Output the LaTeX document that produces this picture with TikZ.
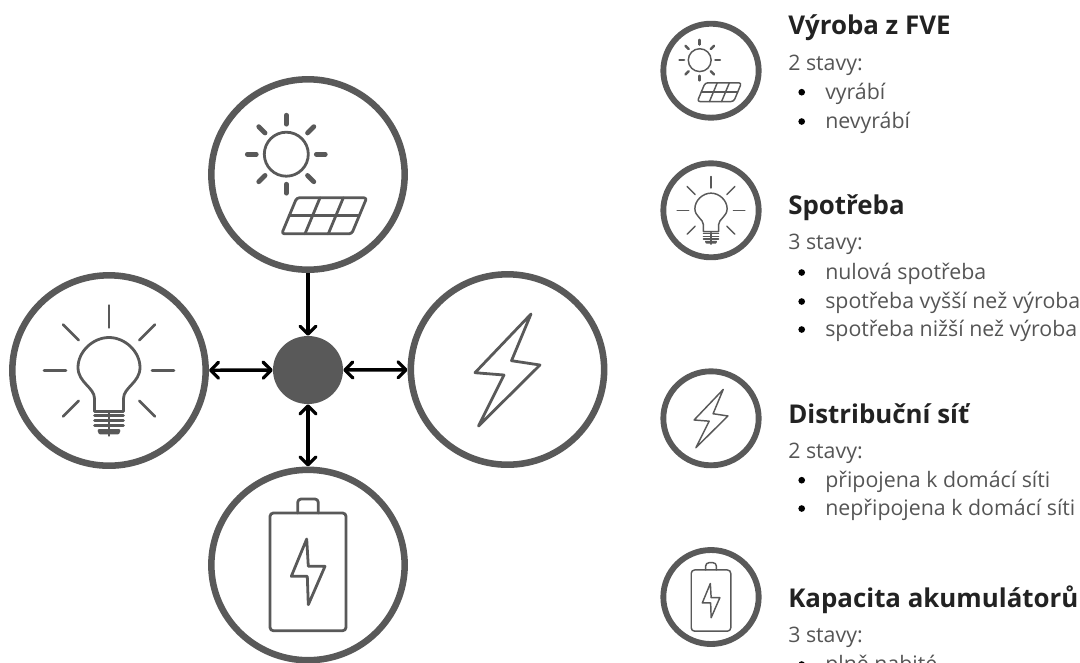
\documentclass[tikz,border=0pt]{standalone}
\usepackage{fontspec}
\usetikzlibrary{arrows.meta,shapes.geometric}
\setmainfont{Open Sans}
\definecolor{icongray}{HTML}{595959}
\definecolor{bodygray}{HTML}{555555}
\definecolor{headgray}{HTML}{222222}
\tikzset{
    bigring/.style={ellipse,draw=icongray,line width=4.9pt,minimum width=145pt,minimum height=142.8pt,inner sep=0pt},
    smallring/.style={ellipse,draw=icongray,line width=4.4pt,minimum width=71.5pt,minimum height=70.5pt,inner sep=0pt},
    hubdot/.style={ellipse,fill=icongray,minimum width=52.5pt,minimum height=51pt,inner sep=0pt},
    flow/.style={line width=2.6pt,black,>={Straight Barb[length=6pt,width=12pt,line width=2.4pt,round]}},
    bigicon/.style={draw=icongray,line width=2.1pt,line join=round,line cap=round},
    smallicon/.style={draw=icongray,line width=1.1pt,line join=round,line cap=round,scale=0.52},
    headtext/.style={anchor=base west,inner sep=0pt,text=headgray,font=\fontsize{19.4pt}{22pt}\selectfont\bfseries},
    bodytext/.style={anchor=base west,inner sep=0pt,text=bodygray,font=\fontsize{16pt}{18pt}\selectfont},
    itemdot/.style={circle,fill=black,inner sep=0pt,minimum size=5pt},
    sunicon/.pic={
        \draw (-21.7,-20.3) circle (22);
        \foreach \a in {0,45,...,315}
            \draw[line width=1.3\pgflinewidth] (-21.7,-20.3) ++(\a:30) -- ++(\a:9);
        \draw[rounded corners=2] (-11.3,23.3) -- (58.7,23.3) -- (43.7,59.3) -- (-26.3,59.3) -- cycle;
        \draw (-18.8,41.3) -- (51.2,41.3);
        \draw (12,23.3) -- (-3,59.3);
        \draw (35.3,23.3) -- (20.3,59.3);
    },
    bulbicon/.pic={
        \draw (-14.5,41) -- (-14.5,28) .. controls (-14.5,17) and (-31,12) .. (-31,-3)
            .. controls (-31,-19) and (-16,-33) .. (0,-33)
            .. controls (16,-33) and (31,-19) .. (31,-3)
            .. controls (31,12) and (14.5,17) .. (14.5,28) -- (14.5,41) -- cycle;
        \foreach \a in {0,45,...,315}
            \draw (\a:43) -- (\a:65);
        \foreach \y in {45,50,55}
            \draw (-14.5,\y) -- (14.5,\y);
        \draw[fill=icongray] (-10,60) -- (10,60) -- (9,62.5) -- (-9,62.5) -- cycle;
    },
    bolticon/.pic={
        \draw (23.5,-55.5) -- (-32.5,3.2) -- (-3.5,5.5) -- (-29,56.5) -- (32.5,-4.5) -- (4,-8.8) -- cycle;
    },
    batteryicon/.pic={
        \draw[rounded corners=2.5] (-38,-52) rectangle (38,65.7);
        \draw[rounded corners=2.5] (-10.3,-52) -- (-10.3,-66) -- (10.3,-66) -- (10.3,-52);
        \draw (-1.3,-26) -- (-16.7,11.3) -- (-0.7,11.3) -- (0.3,39.7) -- (17,1.3) -- (0.3,1.3) -- cycle;
    }
}
\begin{document}
\begin{tikzpicture}[x=0.75pt,y=-0.75pt]
    \useasboundingbox (0,0) rectangle (1080,662);
    % left part
    \node[hubdot] (hub) at (308,370) {};
    \node[bigring] (fve) at (308,174.5) {};
    \node[bigring] (bulb) at (109,370.5) {};
    \node[bigring] (grid) at (507.5,369.5) {};
    \node[bigring] (battery) at (308,565) {};
    \pic[bigicon] at (fve) {sunicon};
    \pic[bigicon] at (bulb) {bulbicon};
    \pic[bigicon] at (grid) {bolticon};
    \pic[bigicon] at (battery) {batteryicon};
    \draw[flow,->] (fve) -- (hub);
    \draw[flow,<->] (bulb) -- (hub);
    \draw[flow,<->] (grid) -- (hub);
    \draw[flow,<->] (battery) -- (hub);
    % right part
    \node[smallring] (fvesmall) at (711,70.7) {};
    \node[smallring] (bulbsmall) at (711,210.3) {};
    \node[smallring] (gridsmall) at (711,418.3) {};
    \node[smallring] (batterysmall) at (711,597) {};
    \pic[smallicon] at (fvesmall) {sunicon};
    \pic[smallicon] at (bulbsmall) {bulbicon};
    \pic[smallicon] at (gridsmall) {bolticon};
    \pic[smallicon] at (batterysmall) {batteryicon};
    \node[headtext] (fvehead) at (788,34.3) {Výroba z FVE};
    \node[bodytext] (fvestates) at (788,70.5) {2 stavy:};
    \node[headtext] (bulbhead) at (788,214.3) {Spotřeba};
    \node[bodytext] (bulbstates) at (788,249.5) {3 stavy:};
    \node[headtext] (gridhead) at (788,423) {Distribuční síť};
    \node[bodytext] (gridstates) at (788,458.2) {2 stavy:};
    \node[headtext] (batteryhead) at (788,607) {Kapacita akumulátorů};
    \node[bodytext] (batterystates) at (788,642.5) {3 stavy:};
    \foreach \n/\y/\t in {a/99/vyrábí,b/128.3/nevyrábí,
                          c/279.3/nulová spotřeba,d/308.3/spotřeba vyšší než výroba,e/336.3/spotřeba nižší než výroba,
                          f/487/připojena k domácí síti,g/515.3/nepřipojena k domácí síti,
                          h/671.3/plně nabité}
    {
        \node[bodytext] (item\n) at (825,\y) {\t};
        \node[itemdot] (dot\n) at (801.7,\y-6.8) {};
    }
\end{tikzpicture}
\end{document}
